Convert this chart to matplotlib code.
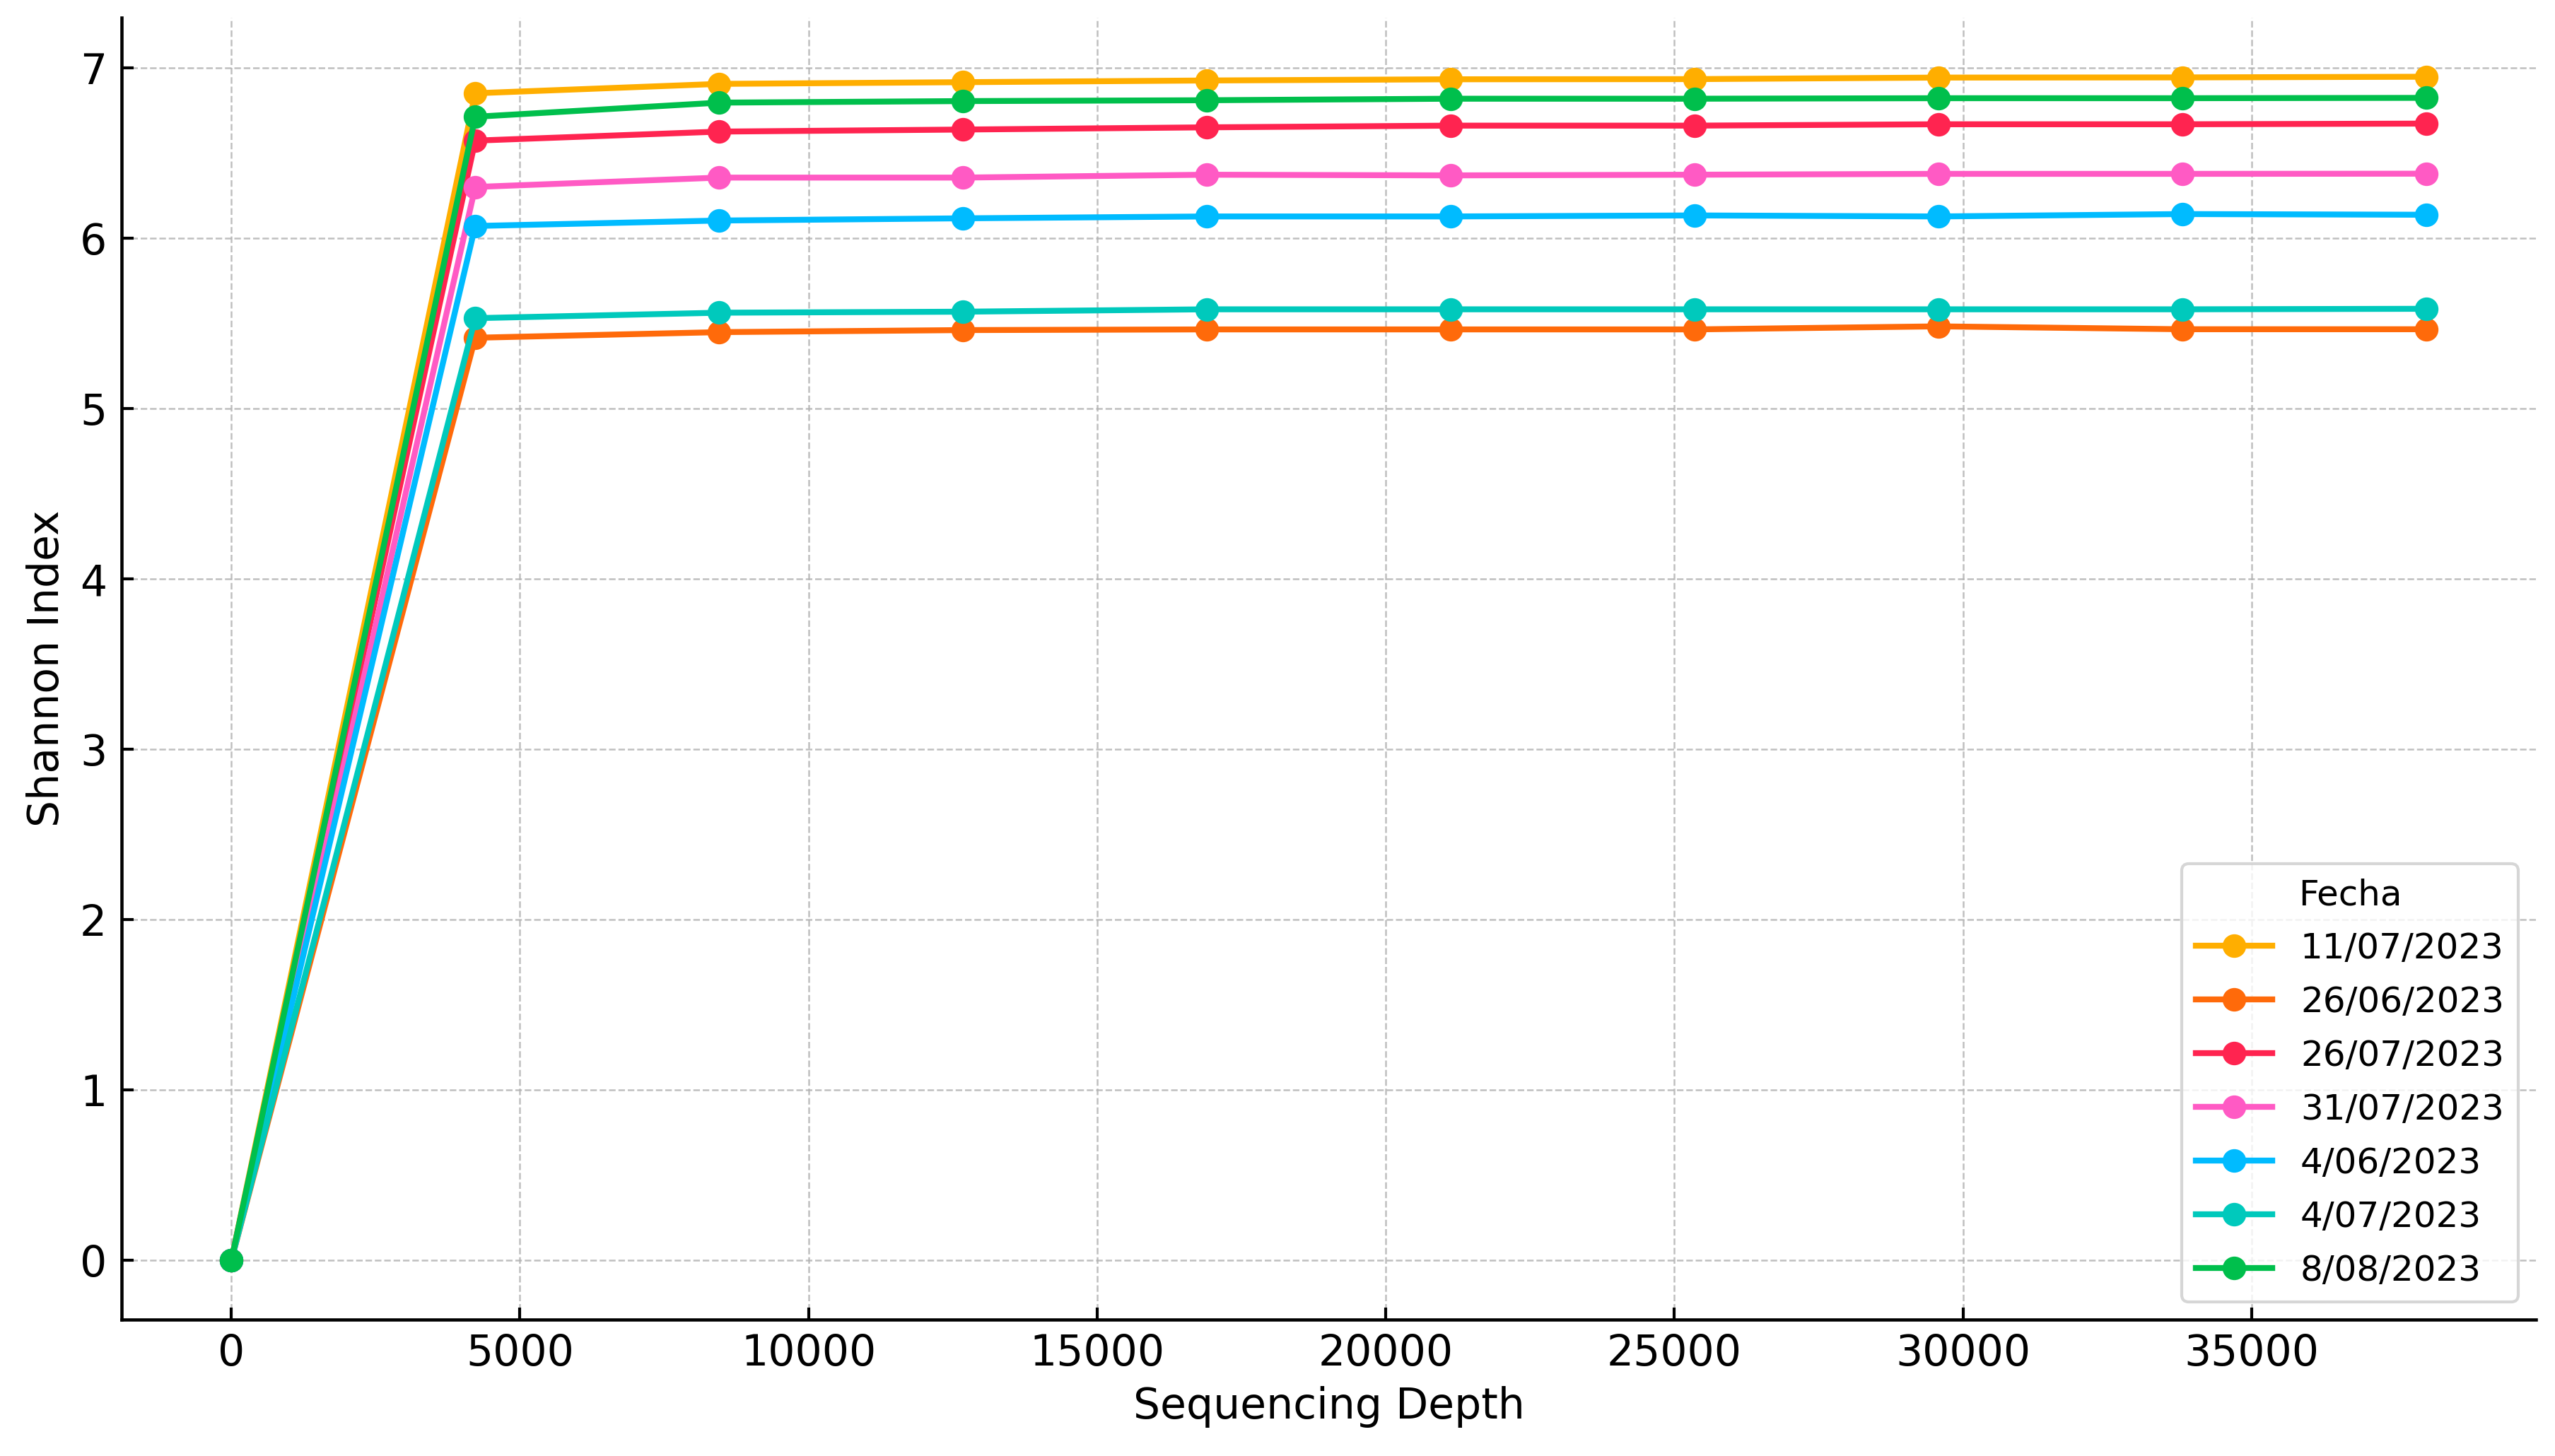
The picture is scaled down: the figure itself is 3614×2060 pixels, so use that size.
import matplotlib
matplotlib.use("Agg")
import matplotlib.pyplot as plt

plt.rcParams['font.family'] = ['DejaVu Sans']

depth = [0, 4225, 8450, 12675, 16900, 21125, 25350, 29575, 33800, 38025]

labels = ["11/07/2023", "26/06/2023", "26/07/2023", "31/07/2023",
          "4/06/2023", "4/07/2023", "8/08/2023"]

s_11_07 = [0, 6.850, 6.905, 6.915, 6.925, 6.932, 6.933, 6.942, 6.943, 6.947]
s_26_06 = [0, 5.415, 5.448, 5.460, 5.464, 5.464, 5.464, 5.482, 5.465, 5.465]
s_26_07 = [0, 6.572, 6.625, 6.637, 6.650, 6.660, 6.660, 6.668, 6.668, 6.672]
s_31_07 = [0, 6.300, 6.355, 6.355, 6.372, 6.368, 6.372, 6.377, 6.377, 6.378]
s_04_06 = [0, 6.071, 6.103, 6.116, 6.127, 6.127, 6.133, 6.127, 6.141, 6.137]
s_04_07 = [0, 5.530, 5.562, 5.568, 5.582, 5.582, 5.582, 5.582, 5.582, 5.585]
s_08_08 = [0, 6.712, 6.795, 6.804, 6.809, 6.818, 6.818, 6.821, 6.821, 6.823]

series = [s_11_07, s_26_06, s_26_07, s_31_07, s_04_06, s_04_07, s_08_08]
colors = ["#FFAE00", "#FF6A0A", "#FF2450", "#FF5AC4", "#00BBFF", "#00C9BC", "#00BF4C"]

fig = plt.figure(figsize=(12.047, 6.867), dpi=300)
ax = fig.add_axes([0.0476, 0.0937, 0.9449, 0.8942])

for lab, ys, c in zip(labels, series, colors):
    ax.plot(depth, ys, marker='o', color=c, linewidth=2, markersize=7, label=lab)

ax.grid(True, linestyle='--', linewidth=0.6, color='#b0b0b0', alpha=0.8)
ax.set_axisbelow(True)

for side in ['top', 'right']:
    ax.spines[side].set_visible(False)
for side in ['left', 'bottom']:
    ax.spines[side].set_linewidth(1.1)
    ax.spines[side].set_color('black')

ax.tick_params(axis='both', direction='in', length=4, width=1, labelsize=14.4, colors='black')
ax.tick_params(axis='y', pad=5)
ax.tick_params(axis='x', pad=4.5)

ax.set_xlabel("Sequencing Depth", fontsize=14.4)
ax.set_ylabel("Shannon Index", fontsize=14.4)

leg = ax.legend(title="Fecha", loc='lower right', fontsize=12, title_fontsize=12,
                labelspacing=0.56, handlelength=2.15)

fig.savefig("out.png", dpi=300)
